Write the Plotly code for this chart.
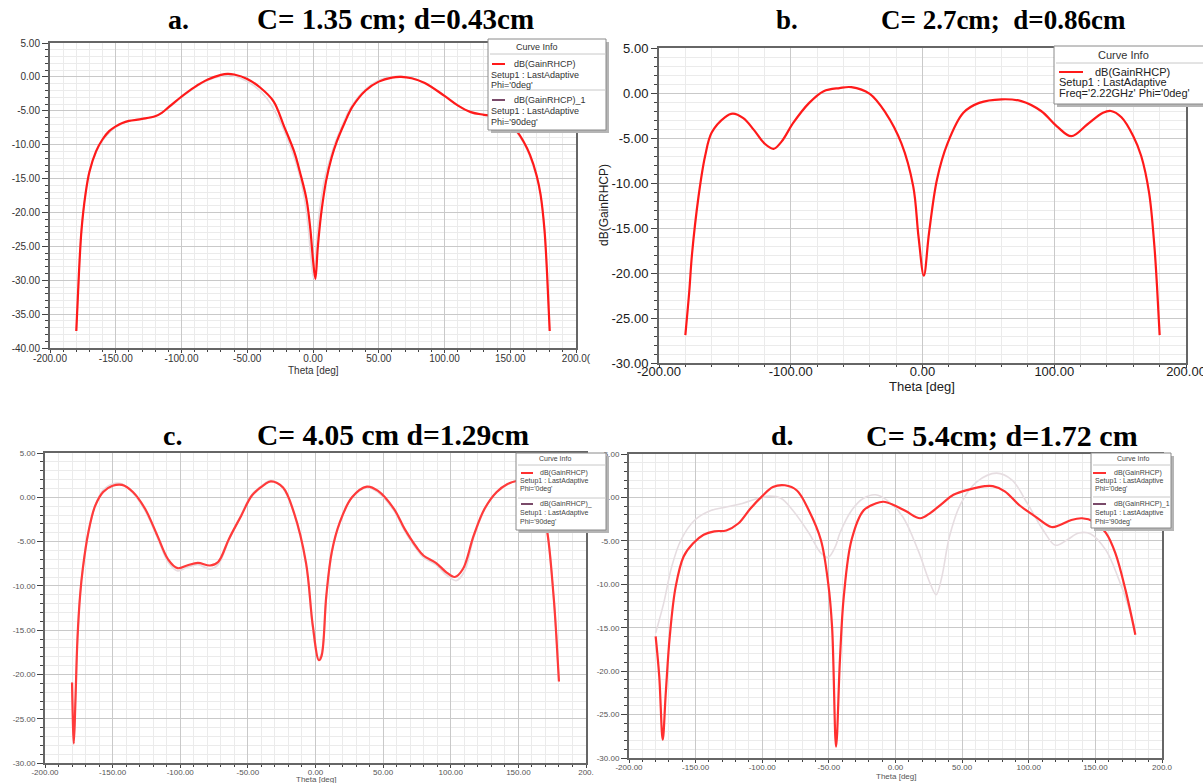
import plotly.graph_objects as go

W, H = 1203, 783

# ---------------- data ----------------
# panel a : C=1.35 cm ; d=0.43 cm
a_theta_0 = [-180, -178, -176, -173, -170, -165, -160, -155, -150, -145, -140, -130, -120, -115, -110,
             -100, -90, -80, -70, -65, -60, -50, -40, -30, -22, -14, -10, -5, -2, 0, 1.8, 3.5, 5, 7,
             10, 14, 18, 24, 30, 40, 50, 60, 67, 75, 85, 100, 110, 120, 130, 140, 150, 155, 160,
             165, 170, 173, 176, 178, 180]
a_gain_0 = [-37.5, -29, -22.5, -17.3, -14, -11, -9.2, -8.0, -7.3, -6.8, -6.5, -6.2, -5.8, -5.3, -4.5,
            -2.9, -1.5, -0.4, 0.3, 0.45, 0.35, -0.3, -1.6, -3.6, -7.3, -11.2, -14.0, -18.0, -22.5, -27,
            -29.8, -25.5, -22.3, -19, -15.3, -12.0, -9.6, -6.8, -4.4, -2.0, -0.7, -0.1, 0.0, -0.2,
            -0.9, -2.8, -4.2, -5.2, -5.6, -5.9, -7.0, -8.0, -9.5, -11.5, -14.5, -17.3, -22.5, -29, -37.5]
a_theta_90 = [-180, -178, -176, -173, -170, -165, -160, -150, -140, -130, -120, -110, -100, -90, -80,
              -70, -63, -55, -45, -35, -24, -15, -11, -6.5, -3.5, -1.5, 0.3, 2.3, 4.5, 8.5, 13, 17,
              23, 29, 40, 50, 60, 68, 78, 90, 100, 110, 120, 130, 140, 150, 160, 165, 170, 173, 176,
              178, 180]
a_gain_90 = [-37.5, -29, -22.5, -17.3, -14, -11.2, -9.4, -7.4, -6.5, -6.2, -5.8, -4.6, -3.0, -1.6, -0.5,
             0.1, 0.25, -0.2, -1.3, -3.2, -7.0, -11.5, -14.0, -18.0, -22.5, -27, -29.6, -25.5, -20.5,
             -15.3, -12.0, -9.6, -6.8, -4.4, -1.8, -0.5, 0.0, 0.1, -0.3, -1.5, -2.8, -4.2, -5.2,
             -5.6, -5.9, -7.1, -9.7, -11.8, -14.8, -17.3, -22.5, -29, -37.5]

# panel b : C=2.7 cm ; d=0.86 cm
b_theta_0 = [-180, -177, -175, -170, -165, -160, -150, -144, -136, -128, -120, -113, -107, -98, -86,
             -75, -63, -54, -40, -28, -16, -7, -3, 1, 5, 11, 19, 31, 43, 60, 75, 90, 102, 113, 125,
             137, 143, 151, 160, 166, 172, 176, 178, 180]
b_gain_0 = [-26.9, -22, -18, -11.5, -7.0, -4.4, -2.7, -2.3, -2.8, -4.1, -5.6, -6.2, -5.4, -3.3, -1.1,
            0.2, 0.55, 0.65, -0.1, -2.2, -5.6, -10.4, -16, -20.3, -15.5, -9.6, -5.6, -2.2, -1.1, -0.7,
            -0.9, -2.0, -3.7, -4.8, -3.5, -2.2, -2.0, -2.7, -4.8, -7.0, -11.1, -17, -21.5, -26.9]

# panel c : C=4.05 cm ; d=1.29 cm
c_theta_0 = [-180, -178.7, -177.5, -176, -174, -172, -168, -163, -157, -150, -143, -135, -126, -117,
             -109, -102, -95, -87, -78, -72, -64, -55, -47, -38, -33, -24, -16, -7, -2, 2.5, 4.5, 8,
             12, 18, 27, 38, 46, 58, 66, 75, 80, 89, 97, 103, 109, 117, 125, 134, 142, 150, 156, 162,
             167, 171, 176, 178, 180]
c_gain_0 = [-20.9, -27.8, -23, -16, -11, -8, -4.0, -1.0, 0.6, 1.3, 1.4, 0.6, -1.3, -4.3, -7.0, -8.0,
            -7.7, -7.4, -7.7, -7.3, -4.7, -2.1, 0.2, 1.4, 1.8, 1.1, -1.7, -7.4, -14.5, -18.4, -17.9,
            -11.1, -6.2, -2.8, 0.0, 1.2, 0.75, -1.3, -3.6, -5.7, -6.6, -7.4, -8.5, -9.0, -8.1, -4.3,
            -1.3, 0.6, 1.5, 1.9, 2.0, 0.8, -1.5, -3.6, -11.1, -15.5, -20.8]
c_theta_90 = [-180, -178.7, -177.5, -176, -174, -172, -168, -163, -157, -150, -143, -135, -126, -117,
              -109, -102, -95, -87, -78, -72, -64, -55, -47, -38, -33, -24, -16, -7, -2, 2, 4.5, 8,
              12, 18, 27, 38, 46, 58, 66, 75, 80, 89, 97, 104, 110, 117, 125, 134, 142, 150, 156,
              162, 167, 171, 176, 178, 180]
c_gain_90 = [-20.9, -27.5, -23, -16, -11, -8, -4.0, -1.0, 0.8, 1.5, 1.5, 0.5, -1.5, -4.5, -7.3, -8.3,
             -7.9, -7.6, -8.1, -7.6, -4.8, -2.0, 0.3, 1.5, 1.9, 1.0, -1.8, -7.6, -14.8, -18.2, -17.6,
             -11.3, -6.3, -2.9, 0.0, 1.1, 0.6, -1.5, -3.8, -5.9, -6.8, -7.6, -8.8, -9.4, -8.4, -4.5,
             -1.4, 0.6, 1.5, 1.9, 2.0, 0.8, -1.5, -3.6, -11.1, -15.5, -20.8]

# panel d : C=5.4 cm ; d=1.72 cm
d_theta_0 = [-180, -177.3, -174.7, -172.4, -169.4, -165, -159, -152, -144, -136, -127, -118, -109, -100,
             -92, -83, -74, -65, -56, -50.5, -47.6, -44.6, -41.7, -38.8, -33, -24, -15, -9, -1, 8, 18.5,
             26, 35, 43.5, 55, 67, 73, 82, 93, 105, 117, 123, 132, 140, 149, 158, 165, 172.7, 180]
d_gain_0 = [-16.0, -20.6, -27.9, -22.5, -16, -10.3, -6.8, -5.3, -4.3, -3.9, -3.8, -3.0, -1.3, 0.15, 1.2,
            1.4, 0.8, -1.5, -4.9, -9.9, -14.9, -28.7, -18.7, -11.4, -4.9, -1.5, -0.7, -0.5, -0.9, -1.6,
            -2.4, -1.8, -0.7, 0.3, 0.9, 1.3, 1.3, 0.7, -0.9, -2.2, -3.4, -3.2, -2.6, -2.4, -2.8, -4.1,
            -6.4, -10.7, -15.8]
d_theta_90 = [-180, -174, -168, -161, -150.6, -138.6, -127, -115, -103, -94.6, -86, -77, -65, -56, -50.5,
              -45, -41.7, -33, -24, -15, -6.5, 5.3, 17, 26, 30.5, 34.7, 40.5, 49, 61, 75.8, 87.5, 99,
              111, 120, 128.7, 137.5, 146.5, 158, 167, 174, 180]
d_gain_90 = [-15.6, -12.2, -8.0, -4.9, -2.6, -1.5, -1.1, -0.7, -0.1, 0.15, -0.1, -1.5, -4.1, -6.4, -6.9,
             -5.6, -4.1, -1.5, -0.1, 0.3, -0.3, -2.2, -6.1, -9.9, -11.2, -9.2, -4.5, -0.7, 1.8, 2.8, 2.0,
             -0.7, -3.8, -5.5, -4.9, -4.1, -4.2, -6.1, -9.2, -12.2, -15.3]

# tick labels
x_ticks_50 = [-200, -150, -100, -50, 0, 50, 100, 150, 200]
x_labels_a = ["-200.00", "-150.00", "-100.00", "-50.00", "0.00", "50.00", "100.00", "150.00", "200.0("]
x_labels_c = ["-200.00", "-150.00", "-100.00", "-50.00", "0.00", "50.00", "100.00", "150.00", "200."]
x_labels_d = ["-200.00", "-150.00", "-100.00", "-50.00", "0.00", "50.00", "100.00", "150.00", "200.0"]
x_ticks_b = [-200, -100, 0, 100, 200]
x_labels_b = ["-200.00", "-100.00", "0.00", "100.00", "200.00"]
y_ticks_a = [5, 0, -5, -10, -15, -20, -25, -30, -35, -40]
y_labels_a = ["5.00", "0.00", "-5.00", "-10.00", "-15.00", "-20.00", "-25.00", "-30.00", "-35.00", "-40.00"]
y_ticks_b = [5, 0, -5, -10, -15, -20, -25, -30]
y_labels_b = ["5.00", "0.00", "-5.00", "-10.00", "-15.00", "-20.00", "-25.00", "-30.00"]

RED = "#ff1a1a"
GREY = "#e6dde1"

# ---------------- figure ----------------
fig = go.Figure()


def px(x):
    return x / W


def py(y):
    return 1 - y / H


panels = [
    # suffix, x-domain px, y-domain px (top,bottom), y range, xticks, xlabels, yticks, ylabels,
    # minor x, fontsize, tick colour, x-label standoff
    ("", (50, 576), (43, 348), (-40, 5), x_ticks_50, x_labels_a, y_ticks_a, y_labels_a, 10, 10, "#333333", -3),
    ("2", (659, 1186), (48, 363), (-30, 5), x_ticks_b, x_labels_b, y_ticks_b, y_labels_b, 20, 13, "#1a1a1a", -8),
    ("3", (45, 586), (453, 763), (-30, 5), x_ticks_50, x_labels_c, y_ticks_b, y_labels_b, 10, 8, "#555555", -3),
    ("4", (629, 1162), (454, 758), (-30, 5), x_ticks_50, x_labels_d, y_ticks_b, y_labels_b, 10, 8, "#555555", -3),
]

series = [
    ("", [(a_theta_90, a_gain_90, GREY, 1.6), (a_theta_0, a_gain_0, RED, 2.2)]),
    ("2", [(b_theta_0, b_gain_0, RED, 2.2)]),
    ("3", [(c_theta_90, c_gain_90, GREY, 1.8), (c_theta_0, c_gain_0, "#ff3b3b", 2.2)]),
    ("4", [(d_theta_90, d_gain_90, GREY, 1.6), (d_theta_0, d_gain_0, "#ff3030", 2.2)]),
]

for suf, lines in series:
    for th, g, col, lw in lines:
        fig.add_trace(go.Scatter(x=th, y=g, mode="lines", xaxis="x" + suf, yaxis="y" + suf,
                                 line=dict(color=col, width=lw, shape="spline", smoothing=1.0),
                                 showlegend=False, hoverinfo="skip"))

layout = dict(width=W, height=H, margin=dict(l=0, r=0, t=0, b=0, autoexpand=False),
              paper_bgcolor="white", plot_bgcolor="white", showlegend=False)

for suf, xd, yd, yr, xt, xl, yt, yl, mx, fs, tc, so in panels:
    xa = dict(domain=[px(xd[0]), px(xd[1])], range=[-200, 200], anchor="y" + suf, automargin=False,
              tickmode="array", tickvals=xt, ticktext=xl, ticks="outside", ticklen=3, tickwidth=1,
              tickcolor="#444", showline=True, linecolor="#666", linewidth=2, mirror=True,
              showgrid=True, gridcolor="#c9c9c9", gridwidth=1, zeroline=False,
              ticklabelstandoff=so, ticklabeloverflow="allow",
              tickfont=dict(family="Liberation Sans, Arial", size=fs, color=tc),
              minor=dict(dtick=mx, tick0=0, showgrid=True, gridcolor="#ebebeb", ticks="outside",
                         ticklen=2, tickcolor="#444"))
    ya = dict(domain=[py(yd[1]), py(yd[0])], range=list(yr), anchor="x" + suf, automargin=False,
              tickmode="array", tickvals=yt, ticktext=yl, ticks="outside", ticklen=6, tickwidth=1,
              tickcolor="#444", showline=True, linecolor="#666", linewidth=2, mirror=True,
              showgrid=True, gridcolor="#c9c9c9", gridwidth=1, zeroline=False,
              ticklabeloverflow="allow",
              tickfont=dict(family="Liberation Sans, Arial", size=fs, color=tc),
              minor=dict(dtick=1, tick0=0, showgrid=True, gridcolor="#ebebeb", ticks="outside",
                         ticklen=3, tickcolor="#444"))
    layout["xaxis" + suf] = xa
    layout["yaxis" + suf] = ya

fig.update_layout(**layout)

ann = []
shapes = []


def text(x, y, s, size, color="#222", family="Liberation Sans, Arial", xanchor="left", angle=0):
    ann.append(dict(x=px(x), y=py(y), xref="paper", yref="paper", text=s, showarrow=False,
                    xanchor=xanchor, yanchor="middle", textangle=angle,
                    font=dict(size=size, color=color, family=family)))


# titles
TF = "Liberation Serif, Times New Roman"
text(178, 19, "<b>a.</b>", 28, "#000", TF, "center")
text(395, 19, "<b>C= 1.35 cm; d=0.43cm</b>", 29, "#000", TF, "center")
text(787, 20, "<b>b.</b>", 27, "#000", TF, "center")
text(1003, 20, "<b>C= 2.7cm;  d=0.86cm</b>", 27, "#000", TF, "center")
text(172, 435, "<b>c.</b>", 28, "#000", TF, "center")
text(393, 435, "<b>C= 4.05 cm d=1.29cm</b>", 29.5, "#000", TF, "center")
text(782, 435, "<b>d.</b>", 28, "#000", TF, "center")
text(1002, 435, "<b>C= 5.4cm; d=1.72 cm</b>", 30, "#000", TF, "center")

# axis titles
text(313, 370, "Theta [deg]", 10, "#333", xanchor="center")
text(922, 386, "Theta [deg]", 13, "#222", xanchor="center")
text(604, 205, "dB(GainRHCP)", 12, "#222", xanchor="center", angle=-90)
text(316, 779, "Theta [deg]", 8, "#555", xanchor="center")
text(896, 776, "Theta [deg]", 8, "#555", xanchor="center")


def box(x0, y0, x1, y1, sep):
    shapes.append(dict(type="rect", xref="paper", yref="paper", x0=px(x0 + 3), x1=px(x1 + 3),
                       y0=py(y1 + 3), y1=py(y0 + 3), fillcolor="#b5b5b5", line=dict(width=0)))
    shapes.append(dict(type="rect", xref="paper", yref="paper", x0=px(x0), x1=px(x1),
                       y0=py(y1), y1=py(y0), fillcolor="white", line=dict(color="#8a8a8a", width=1)))
    for s in sep:
        shapes.append(dict(type="line", xref="paper", yref="paper", x0=px(x0 + 2), x1=px(x1),
                           y0=py(s), y1=py(s), line=dict(color="#c8c8c8", width=1)))


def sample(x0, x1, y, col, w=2):
    shapes.append(dict(type="line", xref="paper", yref="paper", x0=px(x0), x1=px(x1),
                       y0=py(y), y1=py(y), line=dict(color=col, width=w)))


# legend a
box(488, 39, 606, 130, [54, 90])
text(537, 47, "Curve Info", 9, "#333", xanchor="center")
sample(492, 505, 64, RED)
text(512, 64, "dB(GainRHCP)", 9, "#333")
text(489, 75, "Setup1 : LastAdaptive", 9, "#333")
text(489, 85, "Phi='0deg'", 9, "#333")
sample(492, 505, 100, "#7a4a6a")
text(512, 100, "dB(GainRHCP)_1", 9, "#333")
text(489, 111, "Setup1 : LastAdaptive", 9, "#333")
text(489, 122, "Phi='90deg'", 9, "#333")

# legend b
box(1054, 46, 1210, 104, [63])
text(1123, 55, "Curve Info", 11, "#333", xanchor="center")
sample(1059, 1083, 72, RED)
text(1093, 72, "dB(GainRHCP)", 11, "#222")
text(1057, 82, "Setup1 : LastAdaptive", 11, "#222")
text(1057, 93, "Freq='2.22GHz' Phi='0deg'", 11, "#222")

# legend c
box(516, 453, 606, 530, [465, 498])
text(555, 459, "Curve Info", 7, "#444", xanchor="center")
sample(521, 533, 473, "#ff3030")
text(538, 473, "dB(GainRHCP)", 7, "#444")
text(518, 481, "Setup1 : LastAdaptive", 7, "#444")
text(518, 489, "Phi='0deg'", 7, "#444")
sample(521, 533, 504, "#7a4a6a")
text(538, 504, "dB(GainRHCP)_", 7, "#444")
text(518, 513, "Setup1 : LastAdaptive", 7, "#444")
text(518, 522, "Phi='90deg'", 7, "#444")

# legend d
box(1091, 453, 1171, 528, [465, 497])
text(1133, 459, "Curve Info", 7, "#444", xanchor="center")
sample(1093, 1106, 473, "#ff3030")
text(1112, 473, "dB(GainRHCP)", 7, "#444")
text(1093, 481, "Setup1 : LastAdaptive", 7, "#444")
text(1093, 489, "Phi='0deg'", 7, "#444")
sample(1093, 1106, 504, "#7a4a6a")
text(1112, 504, "dB(GainRHCP)_1", 7, "#444")
text(1093, 513, "Setup1 : LastAdaptive", 7, "#444")
text(1093, 522, "Phi='90deg'", 7, "#444")

fig.update_layout(annotations=ann, shapes=shapes)
fig.write_html("out.html")
